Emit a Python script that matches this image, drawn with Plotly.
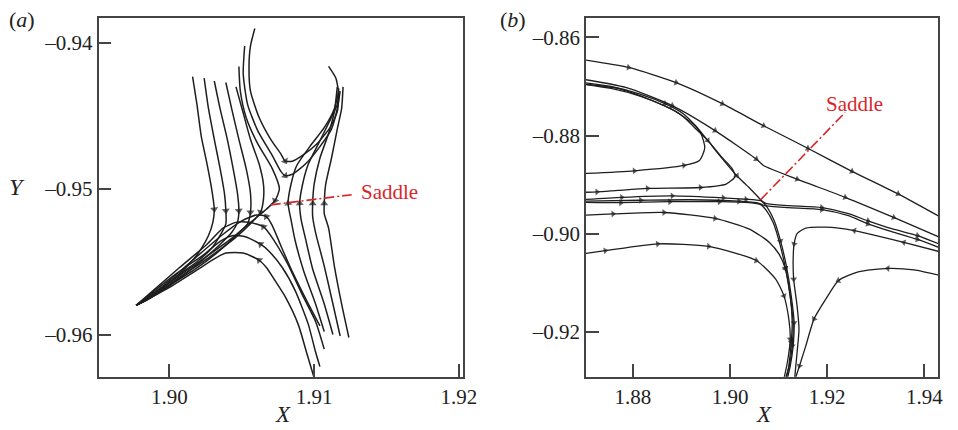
import plotly.graph_objects as go

# ---------------- panel (a) streamlines (X, Y) ----------------
A_L1_X = [1.9016,1.9019,1.9022,1.9026,1.9029,1.9031,1.9030,1.9027,1.9022,1.9016,1.9005,1.8992,1.8977]
A_L1_Y = [-0.9423,-0.9442,-0.9464,-0.9483,-0.9499,-0.9514,-0.9523,-0.9532,-0.9541,-0.9549,-0.9560,-0.9570,-0.9580]
A_L2_X = [1.9024,1.9027,1.9031,1.9035,1.9038,1.9039,1.9039,1.9035,1.9029,1.9019,1.9005,1.8992,1.8977]
A_L2_Y = [-0.9424,-0.9445,-0.9466,-0.9486,-0.9503,-0.9515,-0.9524,-0.9532,-0.9541,-0.9550,-0.9560,-0.9571,-0.9580]
A_L3_X = [1.9031,1.9035,1.9040,1.9044,1.9047,1.9048,1.9047,1.9043,1.9034,1.9019,1.9002,1.8988,1.8977]
A_L3_Y = [-0.9426,-0.9445,-0.9466,-0.9486,-0.9503,-0.9515,-0.9523,-0.9530,-0.9539,-0.9552,-0.9565,-0.9574,-0.9580]
A_L4_X = [1.9039,1.9043,1.9048,1.9053,1.9056,1.9056,1.9054,1.9046,1.9034,1.9018,1.8999,1.8985,1.8977]
A_L4_Y = [-0.9427,-0.9445,-0.9466,-0.9486,-0.9503,-0.9516,-0.9524,-0.9532,-0.9543,-0.9555,-0.9567,-0.9576,-0.9580]
A_L5_X = [1.9046,1.9051,1.9056,1.9062,1.9065,1.9065,1.9063,1.9056,1.9045,1.9026,1.9005,1.8988,1.8977]
A_L5_Y = [-0.9430,-0.9448,-0.9466,-0.9483,-0.9497,-0.9507,-0.9516,-0.9524,-0.9534,-0.9548,-0.9562,-0.9574,-0.9580]
A_L6_X = [1.9048,1.9049,1.9053,1.9061,1.9071,1.9076,1.9073,1.9067,1.9056,1.9043,1.9022,1.8999,1.8977]
A_L6_Y = [-0.9416,-0.9433,-0.9451,-0.9469,-0.9486,-0.9500,-0.9508,-0.9514,-0.9523,-0.9534,-0.9549,-0.9565,-0.9580]
A_C1_X = [1.9059,1.9056,1.9055,1.9056,1.9062,1.9070,1.9077,1.9080,1.9085,1.9092,1.9102,1.9111,1.9116,1.9117,1.9115,1.9110]
A_C1_Y = [-0.9390,-0.9402,-0.9416,-0.9433,-0.9451,-0.9466,-0.9476,-0.9481,-0.9481,-0.9477,-0.9469,-0.9458,-0.9447,-0.9435,-0.9424,-0.9416]
A_C2_X = [1.9052,1.9051,1.9054,1.9061,1.9071,1.9077,1.9080,1.9085,1.9094,1.9104,1.9112,1.9116,1.9118]
A_C2_Y = [-0.9402,-0.9421,-0.9442,-0.9460,-0.9477,-0.9488,-0.9491,-0.9490,-0.9483,-0.9471,-0.9459,-0.9445,-0.9433]
A_R1_X = [1.9107,1.9101,1.9093,1.9087,1.9084,1.9082,1.9084,1.9088,1.9097,1.9107,1.9114,1.9117]
A_R1_Y = [-0.9598,-0.9579,-0.9557,-0.9536,-0.9521,-0.9510,-0.9497,-0.9484,-0.9471,-0.9458,-0.9445,-0.9433]
A_R2_X = [1.9113,1.9107,1.9099,1.9094,1.9091,1.9090,1.9092,1.9096,1.9103,1.9110,1.9116,1.9117]
A_R2_Y = [-0.9600,-0.9579,-0.9555,-0.9534,-0.9521,-0.9510,-0.9497,-0.9483,-0.9469,-0.9455,-0.9442,-0.9431]
A_R3_X = [1.9118,1.9113,1.9107,1.9101,1.9099,1.9099,1.9100,1.9104,1.9110,1.9114,1.9116]
A_R3_Y = [-0.9601,-0.9579,-0.9553,-0.9530,-0.9519,-0.9510,-0.9497,-0.9479,-0.9462,-0.9447,-0.9430]
A_R4_X = [1.9124,1.9119,1.9114,1.9110,1.9107,1.9107,1.9108,1.9112,1.9116,1.9119,1.9120]
A_R4_Y = [-0.9602,-0.9579,-0.9553,-0.9527,-0.9517,-0.9510,-0.9497,-0.9479,-0.9459,-0.9445,-0.9430]
A_D1_X = [1.9101,1.9095,1.9089,1.9080,1.9073,1.9067,1.9062,1.9051,1.9039,1.9031,1.9017,1.9001,1.8977]
A_D1_Y = [-0.9633,-0.9613,-0.9593,-0.9574,-0.9563,-0.9554,-0.9549,-0.9544,-0.9544,-0.9548,-0.9557,-0.9567,-0.9580]
A_D2_X = [1.9104,1.9101,1.9096,1.9087,1.9078,1.9069,1.9063,1.9053,1.9044,1.9035,1.9024,1.9005,1.8977]
A_D2_Y = [-0.9622,-0.9612,-0.9593,-0.9570,-0.9554,-0.9543,-0.9538,-0.9533,-0.9532,-0.9536,-0.9545,-0.9558,-0.9580]
A_D3_X = [1.9107,1.9101,1.9091,1.9082,1.9072,1.9065,1.9055,1.9046,1.9037,1.9026,1.9007,1.8977]
A_D3_Y = [-0.9610,-0.9591,-0.9571,-0.9552,-0.9535,-0.9526,-0.9523,-0.9523,-0.9527,-0.9538,-0.9554,-0.9580]
A_D4_X = [1.9104,1.9095,1.9085,1.9077,1.9071,1.9067,1.9060,1.9050,1.9036,1.9016,1.8995,1.8977]
A_D4_Y = [-0.9594,-0.9577,-0.9557,-0.9539,-0.9525,-0.9519,-0.9518,-0.9522,-0.9532,-0.9549,-0.9567,-0.9580]

# arrow positions (point index) on each streamline of panel (a)
A_ARROWS = {"L1": [5], "L2": [5], "L3": [5], "L4": [5], "L5": [6], "L6": [6],
            "C1": [7], "C2": [6], "R1": [5], "R2": [5], "R3": [5], "R4": [5],
            "D1": [6], "D2": [6], "D3": [5], "D4": [5]}

A_SADDLE_X = [1.9070, 1.9126]
A_SADDLE_Y = [-0.9511, -0.9504]

# ---------------- panel (b) streamlines (X, Y) ----------------
B_B1_X = [1.869,1.8791,1.8889,1.8984,1.9069,1.9160,1.9251,1.9346,1.9440]
B_B1_Y = [-0.8644,-0.8661,-0.8692,-0.8735,-0.8780,-0.8826,-0.8873,-0.8919,-0.8970]
B_B2_X = [1.869,1.8785,1.8881,1.8969,1.9054,1.9069,1.9138,1.9237,1.9337,1.9440]
B_B2_Y = [-0.8684,-0.8702,-0.8739,-0.8790,-0.8848,-0.8861,-0.8889,-0.8926,-0.8967,-0.9011]
B_B3_X = [1.869,1.8755,1.8816,1.8866,1.8903,1.8929,1.8954,1.8984,1.9014,1.9043,1.9063,1.9077,1.9091,1.9104,1.9116,1.9126,1.9132,1.9130,1.9124,1.9118]
B_B3_Y = [-0.8691,-0.8700,-0.8716,-0.8735,-0.8755,-0.8780,-0.8810,-0.8847,-0.8882,-0.8910,-0.8931,-0.8947,-0.8974,-0.9015,-0.9066,-0.9127,-0.9182,-0.9229,-0.9270,-0.9296]
B_E1_X = [1.869,1.8803,1.8905,1.8937,1.8948,1.8940,1.8922,1.8885,1.8838,1.8769,1.869]
B_E1_Y = [-0.8878,-0.8872,-0.8861,-0.8851,-0.8825,-0.8796,-0.8775,-0.8749,-0.8728,-0.8704,-0.8694]
B_E2_X = [1.869,1.8726,1.8769,1.8830,1.8939,1.8992,1.9010,1.9004,1.8980,1.8954,1.8927,1.8901,1.8864,1.8816,1.8755,1.869]
B_E2_Y = [-0.8916,-0.8915,-0.8912,-0.8908,-0.8906,-0.8899,-0.8884,-0.8867,-0.8841,-0.8810,-0.8784,-0.8759,-0.8739,-0.8720,-0.8704,-0.8694]
B_H1_X = [1.869,1.8777,1.8881,1.8986,1.9033,1.9063,1.9075,1.9120,1.9189,1.9242,1.9284,1.9333,1.9386,1.9440]
B_H1_Y = [-0.8931,-0.8926,-0.8923,-0.8927,-0.8930,-0.8933,-0.8939,-0.8943,-0.8947,-0.8959,-0.8974,-0.8990,-0.9004,-0.9025]
B_H2_X = [1.869,1.8775,1.8876,1.8978,1.9039,1.9063,1.9075,1.9089,1.9102,1.9114,1.9124,1.9130,1.9128,1.9122,1.9114]
B_H2_Y = [-0.8936,-0.8937,-0.8935,-0.8935,-0.8937,-0.8941,-0.8953,-0.8978,-0.9019,-0.9070,-0.9129,-0.9182,-0.9229,-0.9270,-0.9296]
B_H3_X = [1.869,1.8816,1.8917,1.9018,1.9059,1.9071,1.9120,1.9189,1.9242,1.9284,1.9333,1.9386,1.9440]
B_H3_Y = [-0.8934,-0.8932,-0.8931,-0.8934,-0.8938,-0.8943,-0.8947,-0.8951,-0.8963,-0.8980,-0.8996,-0.9012,-0.9032]
B_B7_X = [1.869,1.8759,1.8864,1.8969,1.9040,1.9081,1.9101,1.9114,1.9124,1.9128,1.9126,1.9121,1.9116]
B_B7_Y = [-0.8963,-0.8960,-0.8957,-0.8969,-0.8991,-0.9018,-0.9042,-0.9072,-0.9127,-0.9182,-0.9222,-0.9270,-0.9296]
B_B8_X = [1.869,1.8743,1.8851,1.8956,1.9054,1.9094,1.9111,1.9121,1.9124,1.9118,1.9111]
B_B8_Y = [-0.9042,-0.9035,-0.9021,-0.9026,-0.9055,-0.9093,-0.9127,-0.9174,-0.9215,-0.9263,-0.9296]
B_B9_X = [1.9440,1.9379,1.9325,1.9264,1.9223,1.9197,1.9173,1.9156,1.9143,1.9133]
B_B9_Y = [-0.9087,-0.9074,-0.9071,-0.9078,-0.9096,-0.9134,-0.9174,-0.9229,-0.9270,-0.9300]
B_B10_X = [1.9440,1.9358,1.9256,1.9197,1.9156,1.9138,1.9132,1.9130,1.9131,1.9138,1.9142,1.9138,1.9133]
B_B10_Y = [-0.9039,-0.9018,-0.8994,-0.8987,-0.8989,-0.9000,-0.9021,-0.9052,-0.9093,-0.9147,-0.9195,-0.9243,-0.9296]

B_ARROWS = {"B1": [1,2,3,4,5,6,7], "B2": [2,3,4,6,7,8], "B3": [3,6,8,13,16],
            "E1": [1,2], "E2": [1,3,4], "H1": [1,2,3,4,8,10,12], "H2": [1,2,3,9,12],
            "H3": [1,3,7,9,11], "B7": [1,2,3,7,10], "B8": [1,2,3,4,6,8],
            "B9": [2,4,6,8], "B10": [1,2,6,8]}

B_SADDLE_X = [1.9063, 1.9237]
B_SADDLE_Y = [-0.8931, -0.8753]

# tick labels
A_XTICKS = [1.90, 1.91, 1.92]
A_YTICKS = [-0.96, -0.95, -0.94]
B_XTICKS = [1.88, 1.90, 1.92, 1.94]
B_YTICKS = [-0.92, -0.90, -0.88, -0.86]

LINE_COL = "#1e1e1e"
RED = "#d9262b"
SERIF = "Liberation Serif"

A_CURVES = {"L1": (A_L1_X, A_L1_Y), "L2": (A_L2_X, A_L2_Y), "L3": (A_L3_X, A_L3_Y),
            "L4": (A_L4_X, A_L4_Y), "L5": (A_L5_X, A_L5_Y), "L6": (A_L6_X, A_L6_Y),
            "C1": (A_C1_X, A_C1_Y), "C2": (A_C2_X, A_C2_Y), "R1": (A_R1_X, A_R1_Y),
            "R2": (A_R2_X, A_R2_Y), "R3": (A_R3_X, A_R3_Y), "R4": (A_R4_X, A_R4_Y),
            "D1": (A_D1_X, A_D1_Y), "D2": (A_D2_X, A_D2_Y), "D3": (A_D3_X, A_D3_Y),
            "D4": (A_D4_X, A_D4_Y)}
B_CURVES = {"B1": (B_B1_X, B_B1_Y), "B2": (B_B2_X, B_B2_Y), "B3": (B_B3_X, B_B3_Y),
            "E1": (B_E1_X, B_E1_Y), "E2": (B_E2_X, B_E2_Y), "H1": (B_H1_X, B_H1_Y),
            "H2": (B_H2_X, B_H2_Y), "H3": (B_H3_X, B_H3_Y), "B7": (B_B7_X, B_B7_Y),
            "B8": (B_B8_X, B_B8_Y), "B9": (B_B9_X, B_B9_Y), "B10": (B_B10_X, B_B10_Y)}

fig = go.Figure()


def add_curves(curves, arrows, xa, ya, width, msize):
    for name, (xs, ys) in curves.items():
        idx = set(arrows.get(name, []))
        sizes = [msize if i in idx else 0 for i in range(len(xs))]
        fig.add_trace(go.Scatter(
            x=xs, y=ys, xaxis=xa, yaxis=ya, mode="lines+markers",
            line=dict(color=LINE_COL, width=width, shape="spline", smoothing=0.6),
            marker=dict(symbol="triangle-up", size=sizes, color=LINE_COL,
                        angleref="previous", line=dict(width=0)),
            hoverinfo="skip", showlegend=False))


add_curves(A_CURVES, A_ARROWS, "x", "y", 1.5, 7)
add_curves(B_CURVES, B_ARROWS, "x2", "y2", 1.3, 6)

for xs, ys, xa, ya in [(A_SADDLE_X, A_SADDLE_Y, "x", "y"), (B_SADDLE_X, B_SADDLE_Y, "x2", "y2")]:
    fig.add_trace(go.Scatter(x=xs, y=ys, xaxis=xa, yaxis=ya, mode="lines",
                             line=dict(color=RED, width=1.6, dash="10px,3px,2px,3px"),
                             hoverinfo="skip", showlegend=False))

tickfont = dict(family=SERIF, size=21, color="#222")
axcommon = dict(showgrid=False, zeroline=False, showline=True, linecolor="#444",
                linewidth=1.8, mirror=True, ticks="inside", ticklen=13,
                tickwidth=1.6, tickcolor="#444", tickfont=tickfont)


def dash_label(v, nd):
    s = f"{abs(v):.{nd}f}"
    return ("\u2013" + s) if v < 0 else s


fig.update_layout(
    width=958, height=430, margin=dict(l=0, r=0, t=0, b=0),
    paper_bgcolor="white", plot_bgcolor="white",
    xaxis=dict(domain=[0.1044, 0.4906], range=[1.8951, 1.9203], anchor="y",
               tickvals=A_XTICKS, ticktext=[dash_label(v, 2) for v in A_XTICKS], **axcommon),
    yaxis=dict(domain=[0.124, 0.958], range=[-0.96289, -0.93828], anchor="x",
               tickvals=A_YTICKS, ticktext=[dash_label(v, 2) for v in A_YTICKS], **axcommon),
    xaxis2=dict(domain=[0.6208, 0.9937], range=[1.87034, 1.94284], anchor="y2",
                tickvals=B_XTICKS, ticktext=[dash_label(v, 2) for v in B_XTICKS], **axcommon),
    yaxis2=dict(domain=[0.124, 0.958], range=[-0.92919, -0.85604], anchor="x2",
                tickvals=B_YTICKS, ticktext=[dash_label(v, 2) for v in B_YTICKS], **axcommon),
)

ann = [
    dict(text="Saddle", x=1.9131, y=-0.9502, xref="x", yref="y", xanchor="left",
         yanchor="middle", font=dict(family=SERIF, size=21, color=RED)),
    dict(text="Saddle", x=1.9256, y=-0.8735, xref="x2", yref="y2", xanchor="center",
         yanchor="middle", font=dict(family=SERIF, size=21, color=RED)),
    dict(text="<i>X</i>", x=287/958, y=1-414/430, xref="paper", yref="paper",
         font=dict(family=SERIF, size=23, color="#222")),
    dict(text="<i>X</i>", x=775/958, y=1-414/430, xref="paper", yref="paper",
         font=dict(family=SERIF, size=23, color="#222")),
    dict(text="<i>Y</i>", x=17/958, y=1-187/430, xref="paper", yref="paper",
         font=dict(family=SERIF, size=24, color="#222")),
    dict(text="(<i>a</i>)", x=22/958, y=1-20/430, xref="paper", yref="paper",
         font=dict(family=SERIF, size=22, color="#222")),
    dict(text="(<i>b</i>)", x=521/958, y=1-20/430, xref="paper", yref="paper",
         font=dict(family=SERIF, size=22, color="#222")),
]
for a in ann:
    a.setdefault("showarrow", False)
    a.setdefault("xanchor", "center")
    a.setdefault("yanchor", "middle")
fig.update_layout(annotations=ann)

fig.write_html("out.html")
